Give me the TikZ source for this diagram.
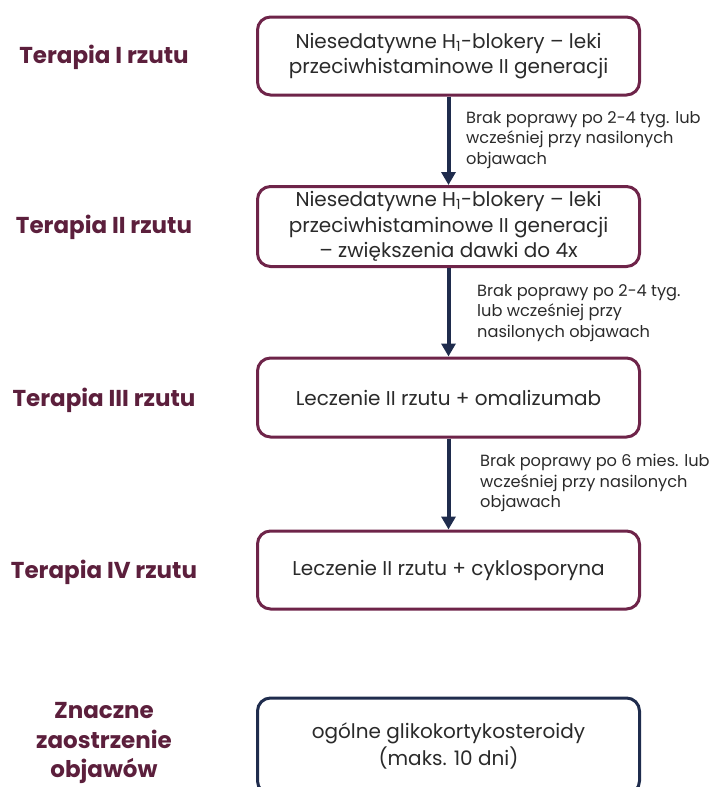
\documentclass[tikz,border=0pt]{standalone}
\usepackage{fontspec}
\setmainfont{Poppins}
\usetikzlibrary{arrows.meta}
\definecolor{wine}{HTML}{6E2449}
\definecolor{winetext}{HTML}{5C1F3C}
\definecolor{navy}{HTML}{1F2C4D}
\definecolor{bodytext}{HTML}{2A2A2A}
\tikzset{
  stepbox/.style={draw=wine, line width=3pt, rounded corners=13pt, fill=white,
    minimum width=382pt, align=center, text=bodytext,
    font=\fontsize{20}{25.5}\selectfont, inner sep=0pt},
  acutebox/.style={stepbox, draw=navy, font=\fontsize{20}{27}\selectfont},
  tier/.style={text=winetext, align=center, font=\fontsize{23}{29.5}\selectfont\bfseries},
  cond/.style={anchor=west, align=left, text=bodytext, font=\fontsize{16.2}{20.5}\selectfont, inner sep=0pt},
  flow/.style={draw=navy, line width=4pt, -{Triangle[width=14pt,length=13pt]}},
}
\begin{document}
\begin{tikzpicture}[x=1pt, y=-1pt]
\useasboundingbox (0,0) rectangle (713,787);

% treatment steps
\node[stepbox, minimum height=78pt] (s1) at (448.5,56)
  {Niesedatywne H\textsubscript{1}-blokery -- leki\\przeciwhistaminowe II generacji};
\node[stepbox, minimum height=80pt] (s2) at (448.5,226.5)
  {Niesedatywne H\textsubscript{1}-blokery -- leki\\przeciwhistaminowe II generacji\\-- zwiększenia dawki do 4x};
\node[stepbox, minimum height=79pt] (s3) at (448.5,397.5) {Leczenie II rzutu + omalizumab};
\node[stepbox, minimum height=78pt] (s4) at (448.5,570) {Leczenie II rzutu + cyklosporyna};
\node[acutebox, minimum height=96pt] (s5) at (448.5,746) {ogólne glikokortykosteroidy\\(maks. 10 dni)};

% tier labels
\node[tier] (t1) at (104,57) {Terapia I rzutu};
\node[tier] (t2) at (104,227) {Terapia II rzutu};
\node[tier] (t3) at (104,400) {Terapia III rzutu};
\node[tier] (t4) at (104,572) {Terapia IV rzutu};
\node[tier] (t5) at (104,743) {Znaczne\\zaostrzenie\\objawów};

% escalation arrows
\draw[flow] (s1.south) -- (s2.north);
\draw[flow] (s2.south) -- (s3.north);
\draw[flow] (s3.south) -- (s4.north);

% escalation conditions
\node[cond] (c1) at (466,140) {Brak poprawy po 2-4 tyg. lub\\wcześniej przy nasilonych\\objawach};
\node[cond] (c2) at (477,313) {Brak poprawy po 2-4 tyg.\\lub wcześniej przy\\nasilonych objawach};
\node[cond] (c3) at (480,483) {Brak poprawy po 6 mies. lub\\wcześniej przy nasilonych\\objawach};
\end{tikzpicture}
\end{document}
